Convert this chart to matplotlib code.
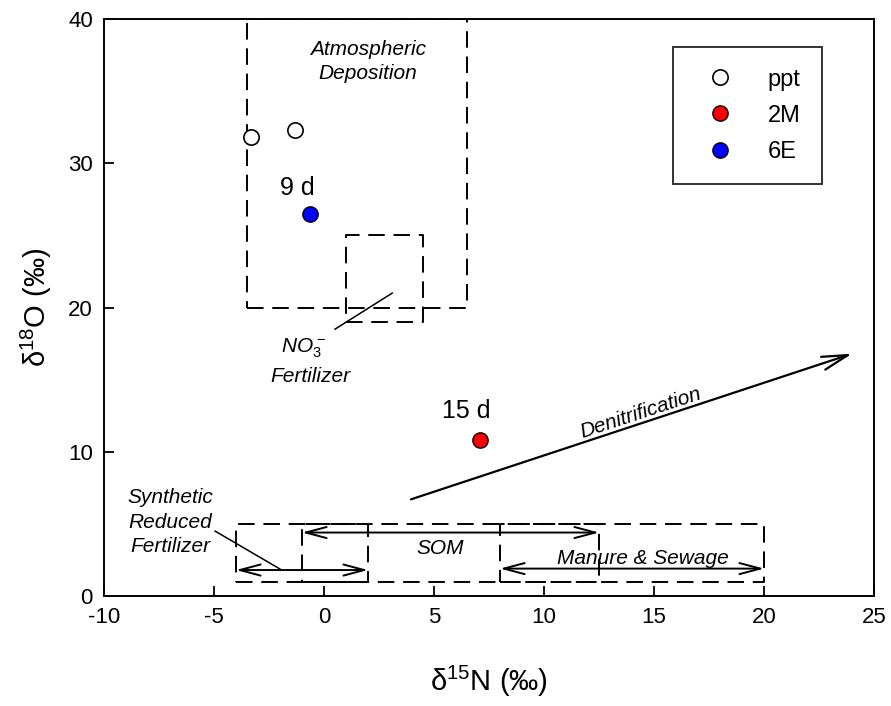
import matplotlib
matplotlib.use("Agg")
import matplotlib.pyplot as plt

plt.rcParams['font.family'] = ['Liberation Sans', 'DejaVu Sans']
plt.rcParams['mathtext.fontset'] = 'custom'
plt.rcParams['mathtext.rm'] = 'Liberation Sans'
plt.rcParams['mathtext.it'] = 'Liberation Sans:italic'
plt.rcParams['axes.unicode_minus'] = False

# Sample data
ppt_x = [-3.3, -1.3]
ppt_y = [31.8, 32.3]
m2_x = [7.1]
m2_y = [10.8]
e6_x = [-0.64]
e6_y = [26.5]

# Source boxes: (x0, x1, y0, y1)
atm_box = (-3.5, 6.5, 20, 40)
no3_box = (1.0, 4.5, 19, 25)
syn_box = (-4.0, 2.0, 1, 5)
som_box = (-1.0, 12.5, 1, 5)
man_box = (8.0, 20.0, 1, 5)

# Range arrows: (x0, x1, y)
syn_arrow = (-4.0, 2.0, 1.8)
som_arrow = (-1.0, 12.5, 4.4)
man_arrow = (8.0, 20.0, 1.9)

# Denitrification arrow
den_start = (3.95, 6.7)
den_end = (24.0, 16.8)

fig = plt.figure(figsize=(8.91, 7.06), dpi=100)
ax = fig.add_axes([0.1167, 0.1558, 0.8643, 0.8172])
ax.set_xlim(-10, 25)
ax.set_ylim(0, 40)
ax.set_xticks(range(-10, 26, 5))
ax.set_yticks(range(0, 41, 10))
ax.tick_params(direction='in', length=7, width=1.3, labelsize=16, top=False, right=False, pad=8)
for s in ax.spines.values():
    s.set_linewidth(1.4)

dash = (0, (8.5, 4.5))
def box(b):
    x0, x1, y0, y1 = b
    ax.plot([x0, x1, x1, x0, x0], [y0, y0, y1, y1, y0], color='black', lw=1.4,
            linestyle=dash, zorder=2)

for b in [atm_box, no3_box, syn_box, som_box, man_box]:
    box(b)

def darrow(a):
    x0, x1, y = a
    ax.annotate('', xy=(x1, y), xytext=(x0, y),
                arrowprops=dict(arrowstyle='<->,head_length=0.75,head_width=0.2',
                                color='black', lw=1.4,
                                shrinkA=0, shrinkB=0, mutation_scale=20))

for a in [syn_arrow, som_arrow, man_arrow]:
    darrow(a)

ax.annotate('', xy=den_end, xytext=den_start,
            arrowprops=dict(arrowstyle='->,head_length=0.85,head_width=0.22',
                            color='black', lw=1.6,
                            shrinkA=0, shrinkB=0, mutation_scale=22))

# leader lines
ax.plot([0.5, 3.1], [18.5, 21.0], color='black', lw=1.1)
ax.plot([-4.95, -2.0], [4.5, 1.87], color='black', lw=1.1)

# texts
it = dict(fontstyle='italic', fontsize=15, ha='center', va='center')
ax.text(2.0, 37.9, 'Atmospheric', **it)
ax.text(2.0, 36.2, 'Deposition', **it)
ax.text(-0.9, 17.2, r'NO$_3^{\,-}$', **it)
ax.text(-0.6, 15.2, 'Fertilizer', **it)
ax.text(-7.0, 6.8, 'Synthetic', **it)
ax.text(-7.0, 5.1, 'Reduced', **it)
ax.text(-7.0, 3.4, 'Fertilizer', **it)
ax.text(5.3, 3.3, 'SOM', **it)
ax.text(14.5, 2.6, 'Manure & Sewage', **it)
ax.text(14.4, 12.7, 'Denitrification', rotation=18.2, rotation_mode='anchor', **it)

ax.text(-1.2, 28.3, '9 d', fontsize=18, ha='center', va='center')
ax.text(6.45, 12.8, '15 d', fontsize=18, ha='center', va='center')

ms = 11
ax.plot(ppt_x, ppt_y, 'o', mfc='white', mec='black', ms=ms, mew=1.2, zorder=5, label='ppt')
ax.plot(m2_x, m2_y, 'o', mfc='#ff0000', mec='black', ms=ms, mew=1.0, zorder=5, label='2M')
ax.plot(e6_x, e6_y, 'o', mfc='#0000ff', mec='black', ms=ms, mew=1.0, zorder=5, label='6E')

leg = ax.legend(loc='upper left', bbox_to_anchor=(0.739, 0.951), frameon=True, fancybox=False,
                edgecolor='black', fontsize=17, borderpad=0.9, labelspacing=0.6,
                handletextpad=0.9, handlelength=2.2, borderaxespad=0)
leg.get_frame().set_linewidth(1.4)

ax.set_xlabel('δ$^{15}$N (‰)', fontsize=21, labelpad=26)
ax.set_ylabel('δ$^{18}$O (‰)', fontsize=21, labelpad=10)

fig.savefig('out.png', dpi=100)
